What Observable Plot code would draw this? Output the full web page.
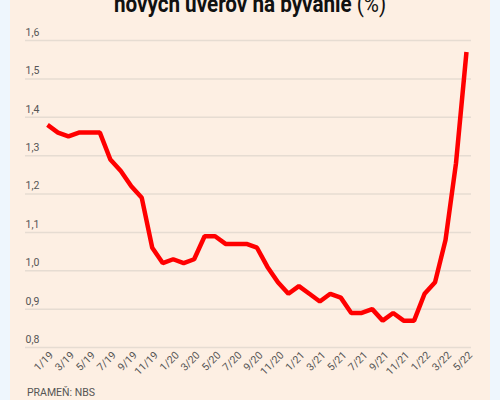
<!DOCTYPE html>
<html>
<head>
<meta charset="utf-8">
<script src="https://cdn.jsdelivr.net/npm/d3@7"></script>
<script src="https://cdn.jsdelivr.net/npm/@observablehq/plot@0.6"></script>
<style>
  html, body { margin: 0; padding: 0; }
  body { width: 500px; height: 400px; background: #eef6fd; overflow: hidden; position: relative; }
  #panel { position: absolute; left: 10px; top: 0; width: 480px; height: 400px; background: #fdefe3; overflow: hidden; }
  #title { position: absolute; left: 0; top: -10px; width: 480px; text-align: center;
           font-family: "Liberation Sans Narrow", Roboto, sans-serif; font-size: 24px; line-height: 28px;
           color: #111; white-space: nowrap; transform: scaleX(0.86); transform-origin: 240px 0; }
  #title b { font-weight: 700; }
  #chart { position: absolute; left: 0; top: 20px; }
  #source { position: absolute; left: 17px; top: 386px; font-family: "Liberation Sans Narrow", Roboto, sans-serif;
            font-size: 10.5px; color: #555; }
</style>
</head>
<body>
<div id="panel">
  <div id="title"><b>nových úverov na bývanie</b> (%)</div>
  <div id="chart"></div>
  <div id="source">PRAMEŇ: NBS</div>
</div>
<script>
const months = [
  "1/19","2/19","3/19","4/19","5/19","6/19","7/19","8/19","9/19","10/19","11/19","12/19",
  "1/20","2/20","3/20","4/20","5/20","6/20","7/20","8/20","9/20","10/20","11/20","12/20",
  "1/21","2/21","3/21","4/21","5/21","6/21","7/21","8/21","9/21","10/21","11/21","12/21",
  "1/22","2/22","3/22","4/22","5/22"
];
const rates = [
  1.38,1.36,1.35,1.36,1.36,1.36,1.29,1.26,1.22,1.19,1.06,1.02,
  1.03,1.02,1.03,1.09,1.09,1.07,1.07,1.07,1.06,1.01,0.97,0.94,
  0.96,0.94,0.92,0.94,0.93,0.89,0.89,0.90,0.87,0.89,0.87,0.87,
  0.94,0.97,1.08,1.28,1.57
];
const yTicks = [0.8,0.9,1.0,1.1,1.2,1.3,1.4,1.5,1.6];
const xTickIdx = months.map((m,i)=>i).filter(i => i % 2 === 0);

const data = months.map((m,i)=>({i, m, v: rates[i]}));
const fmt = d => d3.format(".1f")(d).replace(".", ",");
const font = "'Liberation Sans Narrow', Roboto, sans-serif";

const chart = Plot.plot({
  width: 480,
  height: 380,
  marginLeft: 15,
  marginRight: 19,
  marginTop: 20,
  marginBottom: 53,
  style: { background: "transparent", fontFamily: font, fontSize: "10.5px", color: "#555" },
  x: { type: "linear", domain: [-2.1, 40.48] },
  y: { domain: [0.8, 1.6], axis: null },
  marks: [
    Plot.ruleY(yTicks, { stroke: "#e6dcd2", strokeWidth: 1.5 }),
    Plot.text(yTicks, { x: -2.1, y: d => d, text: fmt, textAnchor: "start", dy: -8, fill: "#555", fontSize: 10.5 }),
    Plot.axisX(xTickIdx, { tickFormat: i => months[i], tickRotate: -45, tickSize: 0, tickPadding: 6, dx: 4, fill: "#555", label: null }),
    Plot.line(data, { x: "i", y: "v", stroke: "#ff0000", strokeWidth: 4.5, strokeLinejoin: "miter", strokeLinecap: "butt" })
  ]
});
document.getElementById("chart").appendChild(chart);
</script>
</body>
</html>
